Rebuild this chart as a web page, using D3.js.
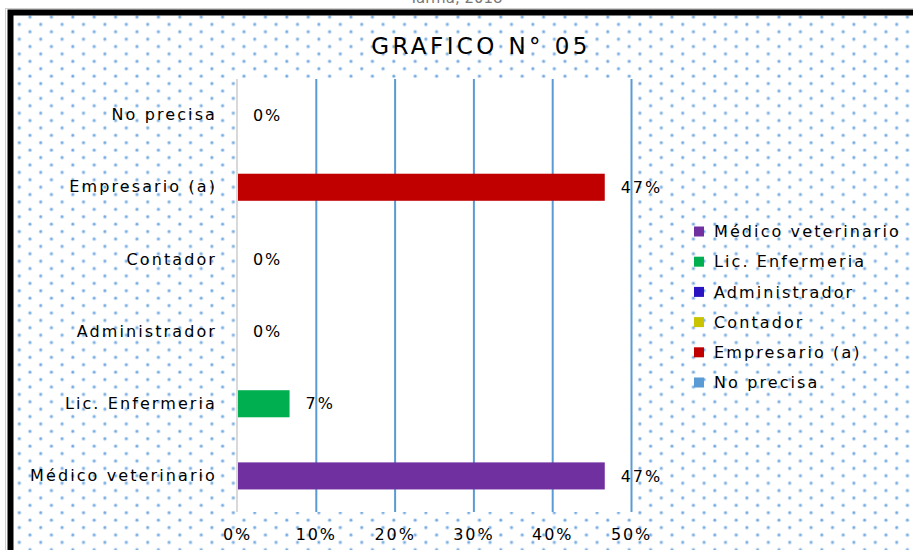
<!DOCTYPE html>
<html>
<head>
<meta charset="utf-8">
<script src="https://cdn.jsdelivr.net/npm/d3@7"></script>
<style>
  html, body { margin: 0; padding: 0; background: #ffffff; }
  svg { display: block; }
  text { font-family: "DejaVu Sans", sans-serif; fill: #000; }
</style>
</head>
<body>
<svg id="chart" width="913" height="550"></svg>
<script>
// ---- data ----
const categories = ["Médico veterinario", "Lic. Enfermeria", "Administrador", "Contador", "Empresario (a)", "No precisa"];
const values = [46.67, 6.67, 0, 0, 46.67, 0];
const colors = ["#7030A0", "#00B050", "#2A14C2", "#C9C300", "#C00000", "#5B9BD5"];
const xTicks = [0, 10, 20, 30, 40, 50];
const titleText = "GRAFICO N° 05";
const topText = "Tarma, 2018";

const svg = d3.select("#chart");
const W = 913, H = 550;
const FS = "16px", LS = "1.9px";

// dotted pattern
const defs = svg.append("defs");
const pat = defs.append("pattern")
  .attr("id", "dots").attr("patternUnits", "userSpaceOnUse")
  .attr("width", 21.4).attr("height", 14.8);
pat.append("rect").attr("width", 21.4).attr("height", 14.8).attr("fill", "#ffffff");
[[8.6, 2.2], [19.3, 9.6]].forEach(([cx, cy]) => {
  pat.append("circle").attr("cx", cx).attr("cy", cy).attr("r", 1.9).attr("fill", "#bcd7f1");
  pat.append("circle").attr("cx", cx).attr("cy", cy).attr("r", 1.1).attr("fill", "#6fa6df");
});

// cut-off top caption
svg.append("text").attr("x", 456).attr("y", 3).attr("text-anchor", "middle")
  .style("font-size", "15px").style("fill", "#777").text(topText);

// outer thin grey line + chart area
svg.append("rect").attr("x", 5.5).attr("y", 8.5).attr("width", W + 20).attr("height", H + 20)
  .attr("fill", "none").attr("stroke", "#cfcfcf").attr("stroke-width", 1);
svg.append("rect").attr("x", 10.5).attr("y", 12.5).attr("width", W + 20).attr("height", H + 20)
  .attr("fill", "url(#dots)").attr("stroke", "#000").attr("stroke-width", 6);

// scales
const x = d3.scaleLinear().domain([0, 50]).range([237, 631]);
const y = d3.scaleBand().domain(categories.slice().reverse()).range([79, 512])
  .paddingInner(0.625).paddingOuter(0.3125);

// plot area
svg.append("rect").attr("x", x(0)).attr("y", 79).attr("width", x(50) - x(0)).attr("height", 512 - 79)
  .attr("fill", "#ffffff");

// gridlines
svg.append("g").attr("transform", "translate(0,512)")
  .call(d3.axisBottom(x).tickValues(xTicks.slice(1)).tickSize(-(512 - 79)).tickFormat(""))
  .call(g => g.select(".domain").remove())
  .call(g => g.selectAll("line").attr("stroke", "#5B9BD5").attr("stroke-width", 2));

// vertical axis line at 0
svg.append("line").attr("x1", x(0)).attr("x2", x(0)).attr("y1", 79).attr("y2", 512)
  .attr("stroke", "#d9d9d9").attr("stroke-width", 2);

// bars
svg.append("g").selectAll("rect").data(categories).join("rect")
  .attr("x", x(0) + 1)
  .attr("y", d => y(d))
  .attr("width", (d, i) => Math.max(0, x(values[i]) - x(0) - 1))
  .attr("height", y.bandwidth())
  .attr("fill", (d, i) => colors[i]);

// value labels
svg.append("g").selectAll("text").data(categories).join("text")
  .attr("x", (d, i) => x(values[i]) + 16)
  .attr("y", d => y(d) + y.bandwidth() / 2)
  .attr("dy", "0.35em")
  .style("font-size", FS).style("letter-spacing", LS)
  .text((d, i) => Math.round(values[i]) + "%");

// category labels
svg.append("g").attr("transform", "translate(217,0)")
  .call(d3.axisLeft(y).tickSize(0).tickPadding(0))
  .call(g => g.select(".domain").remove())
  .call(g => g.selectAll("text").style("font-size", FS).style("letter-spacing", "2.1px")
    .style("font-family", "DejaVu Sans").attr("fill", "#000"));

// x tick labels
svg.append("g").attr("transform", "translate(0,528)")
  .call(d3.axisBottom(x).tickValues(xTicks).tickSize(0).tickPadding(0).tickFormat(d => d + "%"))
  .call(g => g.select(".domain").remove())
  .call(g => g.selectAll("text").style("font-size", FS).style("letter-spacing", LS)
    .style("font-family", "DejaVu Sans").attr("fill", "#000").attr("dy", "0.72em"));

// title
svg.append("text").attr("x", 481).attr("y", 54).attr("text-anchor", "middle")
  .style("font-size", "23px").style("letter-spacing", "3.4px").text(titleText);

// legend
const leg = svg.append("g").attr("transform", "translate(694,231.5)");
const rows = leg.selectAll("g").data(categories).join("g")
  .attr("transform", (d, i) => `translate(0,${i * 30.2})`);
rows.append("rect").attr("x", 0).attr("y", -5).attr("width", 10).attr("height", 10)
  .attr("fill", (d, i) => colors[i]);
rows.append("text").attr("x", 20).attr("y", 0).attr("dy", "0.35em")
  .style("font-size", FS).style("letter-spacing", "2.1px").text(d => d);
</script>
</body>
</html>
